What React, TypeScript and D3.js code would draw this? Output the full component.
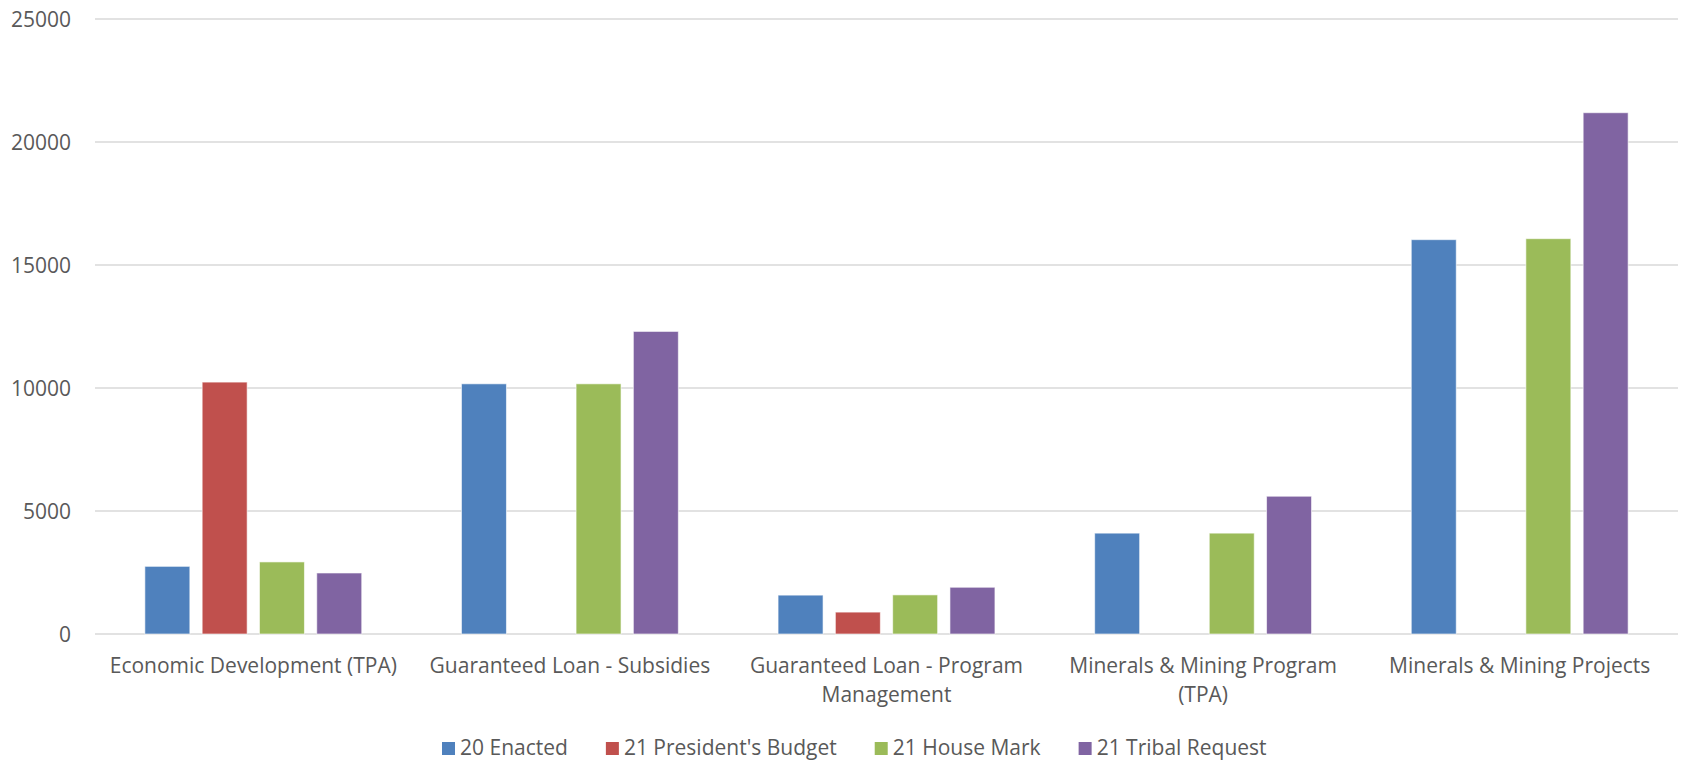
import React, { useEffect, useRef } from "react";
import * as d3 from "d3";

const categories = [
  "Economic Development (TPA)",
  "Guaranteed Loan - Subsidies",
  "Guaranteed Loan - Program Management",
  "Minerals & Mining Program (TPA)",
  "Minerals & Mining Projects",
];

const seriesNames = ["20 Enacted", "21 President's Budget", "21 House Mark", "21 Tribal Request"];
const seriesColors = ["#4f81bd", "#c0504d", "#9bbb59", "#8064a2"];

const enacted20 = [2750, 10170, 1580, 4100, 16030];
const presidentsBudget21 = [10240, 0, 890, 0, 0];
const houseMark21 = [2930, 10170, 1590, 4100, 16070];
const tribalRequest21 = [2480, 12300, 1900, 5600, 21190];

const yTicks = [0, 5000, 10000, 15000, 20000, 25000];

const FONT = "'Open Sans', sans-serif";
const TEXT = "#595959";

export default function App() {
  const svgRef = useRef<SVGSVGElement | null>(null);

  useEffect(() => {
    if (!svgRef.current) return;
    const svg = d3.select(svgRef.current);
    svg.selectAll("*").remove();

    const width = 1681;
    const height = 761;
    const margin = { top: 19, right: 3, bottom: 127, left: 95 };

    const series = [enacted20, presidentsBudget21, houseMark21, tribalRequest21];

    const x0 = d3
      .scaleBand()
      .domain(categories)
      .range([margin.left, width - margin.right])
      .paddingInner(0.315)
      .paddingOuter(0.1575);

    const x1 = d3
      .scaleBand()
      .domain(seriesNames)
      .range([0, x0.bandwidth()])
      .paddingInner(0.215);

    const y = d3
      .scaleLinear()
      .domain([0, 25000])
      .range([height - margin.bottom, margin.top]);

    // grid
    svg
      .append("g")
      .selectAll("line")
      .data(yTicks)
      .enter()
      .append("line")
      .attr("x1", margin.left)
      .attr("x2", width - margin.right)
      .attr("y1", (d) => y(d))
      .attr("y2", (d) => y(d))
      .attr("stroke", "#d9d9d9")
      .attr("stroke-width", 1.3);

    // y labels
    svg
      .append("g")
      .selectAll("text")
      .data(yTicks)
      .enter()
      .append("text")
      .attr("x", 71)
      .attr("y", (d) => y(d))
      .attr("dy", "0.36em")
      .attr("text-anchor", "end")
      .attr("font-family", FONT)
      .attr("font-size", "21px")
      .attr("fill", TEXT)
      .text((d) => String(d));

    // bars
    const groups = svg
      .append("g")
      .selectAll("g")
      .data(categories)
      .enter()
      .append("g")
      .attr("transform", (c) => `translate(${x0(c)},0)`);

    groups
      .selectAll("rect")
      .data((c, ci) =>
        seriesNames.map((s, si) => ({ s, si, v: series[si][ci] }))
      )
      .enter()
      .filter((d) => d.v > 0)
      .append("rect")
      .attr("x", (d) => x1(d.s)!)
      .attr("y", (d) => y(d.v))
      .attr("width", x1.bandwidth())
      .attr("height", (d) => y(0) - y(d.v))
      .attr("fill", (d) => seriesColors[d.si])
      .attr("stroke", "#ffffff")
      .attr("stroke-opacity", 0.6)
      .attr("stroke-width", 1);

    // category labels, wrapped to the band
    const maxW = x0.step() - 12;
    categories.forEach((c) => {
      const cx = x0(c)! + x0.bandwidth() / 2;
      const t = svg
        .append("text")
        .attr("text-anchor", "middle")
        .attr("font-family", FONT)
        .attr("font-size", "21px")
        .attr("fill", TEXT);
      const words = c.split(" ");
      const lines: string[] = [];
      let cur = "";
      words.forEach((w) => {
        const test = cur ? cur + " " + w : w;
        t.text(test);
        const len = (t.node() as SVGTextElement).getComputedTextLength();
        if (len > maxW && cur) {
          lines.push(cur);
          cur = w;
        } else {
          cur = test;
        }
      });
      lines.push(cur);
      t.text(null);
      lines.forEach((ln, i) => {
        t.append("tspan")
          .attr("x", cx)
          .attr("y", 673 + i * 29)
          .text(ln);
      });
    });

    // legend
    const legend = svg.append("g");
    let lx = 442;
    seriesNames.forEach((s, i) => {
      legend
        .append("rect")
        .attr("x", lx)
        .attr("y", 742)
        .attr("width", 13)
        .attr("height", 13)
        .attr("fill", seriesColors[i]);
      const t = legend
        .append("text")
        .attr("x", lx + 18)
        .attr("y", 755)
        .attr("font-family", FONT)
        .attr("font-size", "21px")
        .attr("fill", TEXT)
        .text(s);
      const len = (t.node() as SVGTextElement).getComputedTextLength();
      lx += 18 + len + 38;
    });
  }, []);

  return (
    <div style={{ position: "absolute", left: 0, top: 0, background: "#fff" }}>
      <svg ref={svgRef} width={1681} height={761} style={{ display: "block" }} />
    </div>
  );
}
